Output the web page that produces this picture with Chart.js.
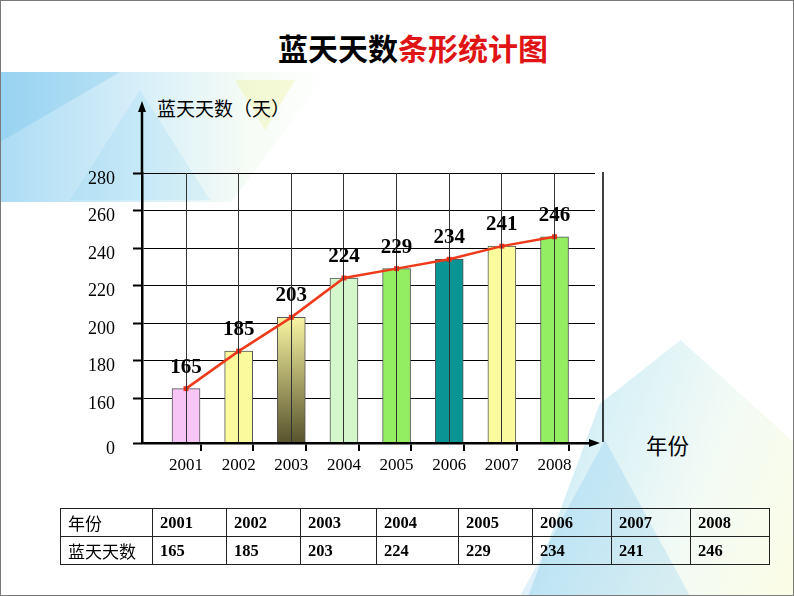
<!DOCTYPE html>
<html><head><meta charset="utf-8">
<script src="https://cdn.jsdelivr.net/npm/chart.js@4"></script>
<style>
html,body{margin:0;padding:0;}
body{width:794px;height:596px;position:relative;overflow:hidden;background:#fff;font-family:"Noto Sans CJK SC",sans-serif;}
.deco{position:absolute;}
#frame{position:absolute;left:0;top:0;width:792px;height:594px;border:1px solid #7a7a7a;pointer-events:none;}
#title{position:absolute;left:0;width:826px;top:28px;text-align:center;font-size:30px;font-weight:bold;line-height:38px;color:#000;}
#title .r{color:#e01414;}
#ylab{position:absolute;left:157px;top:96px;font-size:19px;line-height:24px;color:#000;}
#xlab{position:absolute;left:646px;top:432px;font-size:21.5px;line-height:26px;color:#000;}
canvas{position:absolute;left:0;top:0;}
table{position:absolute;left:60px;top:508px;border-collapse:collapse;}
td{border:1.5px solid #222;height:27px;padding:0 0 0 7px;font-family:"Liberation Serif",serif;font-weight:bold;font-size:16.5px;color:#000;text-align:left;}
td.h{font-family:"Noto Sans CJK SC",sans-serif;font-weight:normal;font-size:17px;}
</style></head>
<body>
<!-- background decoration -->
<div class="deco" style="left:0;top:72px;width:330px;height:130px;background:linear-gradient(90deg,rgba(90,185,235,0.5),rgba(130,205,235,0.3) 45%,rgba(210,238,205,0.2) 75%,rgba(255,255,255,0));clip-path:polygon(0 0,100% 0,70% 100%,0 100%);"></div>
<div class="deco" style="left:0;top:72px;width:120px;height:70px;background:rgba(60,170,230,0.18);clip-path:polygon(0 0,100% 0,0 100%);"></div>
<div class="deco" style="left:70px;top:90px;width:140px;height:110px;background:rgba(80,190,235,0.12);clip-path:polygon(50% 0,100% 100%,0 100%);"></div>
<div class="deco" style="left:235px;top:80px;width:60px;height:50px;background:rgba(235,240,150,0.35);clip-path:polygon(0 0,100% 0,50% 100%);"></div>
<div class="deco" style="left:470px;top:340px;width:324px;height:256px;background:linear-gradient(110deg,rgba(70,180,235,0.4),rgba(120,205,225,0.28) 40%,rgba(200,235,205,0.2) 70%,rgba(240,245,160,0.28));clip-path:polygon(18% 100%,40% 25%,65% 0,100% 40%,100% 100%);"></div>
<div class="deco" style="left:520px;top:440px;width:170px;height:156px;background:rgba(60,170,230,0.16);clip-path:polygon(0 100%,50% 0,100% 100%);"></div>

<div id="title">蓝天天数<span class="r">条形统计图</span></div>
<div id="ylab">蓝天天数（天）</div>
<div id="xlab">年份</div>
<canvas id="c" width="794" height="596"></canvas>
<table id="tbl"></table>
<div id="frame"></div>

<script>
// ---- data ----
const years = [2001, 2002, 2003, 2004, 2005, 2006, 2007, 2008];
const days = [165, 185, 203, 224, 229, 234, 241, 246];
const yTickValues = [136, 160, 180, 200, 220, 240, 260, 280];
const yTickLabels = ['0', '160', '180', '200', '220', '240', '260', '280'];
const tableHeadYear = '年份';
const tableHeadDays = '蓝天天数';

// ---- styles ----
const barColors = ['#f7c6f7', '#fbfb9e', 'GRAD', '#d3f7cb', '#93ee62', '#0b9494', '#fbfb9e', '#93ee62'];

// table
(function(){
  const widths = [93, 75, 75, 77, 83, 75, 80, 80, 80];
  const tbl = document.getElementById('tbl');
  const r1 = document.createElement('tr'), r2 = document.createElement('tr');
  const mk = (row, txt, w, cls) => { const td = document.createElement('td'); td.textContent = txt; td.style.width = (w - 9) + 'px'; if (cls) td.className = cls; row.appendChild(td); };
  mk(r1, tableHeadYear, widths[0], 'h'); mk(r2, tableHeadDays, widths[0], 'h');
  years.forEach((y, i) => { mk(r1, String(y), widths[i + 1]); mk(r2, String(days[i]), widths[i + 1]); });
  tbl.appendChild(r1); tbl.appendChild(r2);
})();

const extras = {
  id: 'extras',
  afterDraw(chart) {
    const ctx = chart.ctx, a = chart.chartArea;
    ctx.save();
    ctx.strokeStyle = '#000'; ctx.fillStyle = '#000';
    ctx.lineWidth = 2.5;
    ctx.beginPath(); ctx.moveTo(a.left, a.top + 1); ctx.lineTo(a.left, a.top - 64); ctx.stroke();
    ctx.beginPath(); ctx.moveTo(a.left, a.top - 72); ctx.lineTo(a.left - 4, a.top - 61); ctx.lineTo(a.left + 4, a.top - 61); ctx.closePath(); ctx.fill();
    ctx.beginPath(); ctx.moveTo(a.right + 5, a.bottom); ctx.lineTo(a.right - 6, a.bottom - 4); ctx.lineTo(a.right - 6, a.bottom + 4); ctx.closePath(); ctx.fill();
    ctx.lineWidth = 1.5;
    ctx.beginPath(); ctx.moveTo(a.right + 8, a.top - 1); ctx.lineTo(a.right + 8, a.bottom - 1); ctx.stroke();
    // line drawn over the vertical grid, then value labels
    const meta = chart.getDatasetMeta(0);
    ctx.font = 'bold 21px "Liberation Serif"';
    ctx.textAlign = 'center'; ctx.textBaseline = 'bottom';
    meta.data.forEach((pt, i) => { ctx.fillText(String(days[i]), pt.x, pt.y - 11); });
    ctx.restore();
  }
};

new Chart(document.getElementById('c'), {
  type: 'bar',
  data: {
    datasets: [
      {
        type: 'line',
        data: years.map((y, i) => ({ x: y, y: days[i] })),
        borderColor: '#ee3a1a',
        borderWidth: 2.5,
        pointStyle: 'rect',
        pointRadius: 3.5,
        pointBackgroundColor: '#e8301a',
        pointBorderWidth: 0,
        tension: 0,
        order: 0
      },
      {
        type: 'bar',
        data: years.map((y, i) => ({ x: y, y: days[i] })),
        barThickness: 28,
        borderWidth: 1,
        borderColor: '#555',
        borderSkipped: false,
        backgroundColor: (c) => {
          const col = barColors[c.dataIndex];
          if (col !== 'GRAD') return col;
          const ch = c.chart, a = ch.chartArea;
          if (!a) return '#b0aa60';
          const top = ch.scales.y.getPixelForValue(days[c.dataIndex]);
          const g = ch.ctx.createLinearGradient(0, top, 0, a.bottom);
          g.addColorStop(0, '#f9f5a2');
          g.addColorStop(1, '#57522c');
          return g;
        },
        order: 1
      }
    ]
  },
  options: {
    responsive: false,
    animation: false,
    devicePixelRatio: 1,
    layout: { padding: { left: 0, top: 173, right: 199, bottom: 105 } },
    plugins: { legend: { display: false }, tooltip: { enabled: false } },
    scales: {
      x: {
        type: 'linear',
        position: 'bottom',
        offset: false,
        min: 2000.164, max: 2008.769,
        weight: 1,
        afterBuildTicks: (s) => { s.ticks = years.map(v => ({ value: v })); },
        afterFit: (s) => { s.height = 40; },
        ticks: { callback: (v, i) => String(years[i]), color: '#000', font: { family: 'Liberation Serif', size: 17 }, padding: 4, maxRotation: 0, autoSkip: false },
        grid: { offset: false, color: '#333', lineWidth: 1, drawTicks: false, z: 1 },
        border: { display: false }
      },
      x2: {
        type: 'linear',
        position: 'bottom',
        offset: false,
        min: 2000.164, max: 2008.769,
        weight: 0,
        afterBuildTicks: (s) => { s.ticks = years.map(v => ({ value: v + 0.28 })); },
        afterFit: (s) => { s.height = 8; },
        ticks: { display: false },
        grid: { offset: false, drawOnChartArea: false, drawTicks: true, tickLength: 8, color: '#000', lineWidth: 2 },
        border: { display: true, color: '#000', width: 2.5, z: 1 }
      },
      y: {
        type: 'linear',
        min: 136, max: 280,
        afterBuildTicks: (s) => { s.ticks = yTickValues.map(v => ({ value: v })); },
        afterFit: (s) => { s.width = 142; },
        ticks: { callback: (v, i) => yTickLabels[i], color: '#000', font: { family: 'Liberation Serif', size: 18 }, padding: 18, labelOffset: 6, autoSkip: false },
        grid: { color: '#000', lineWidth: 1, tickLength: 9, tickColor: '#000', tickWidth: 2 },
        border: { color: '#000', width: 2.5 }
      }
    }
  },
  plugins: [extras]
});
</script>
</body></html>
